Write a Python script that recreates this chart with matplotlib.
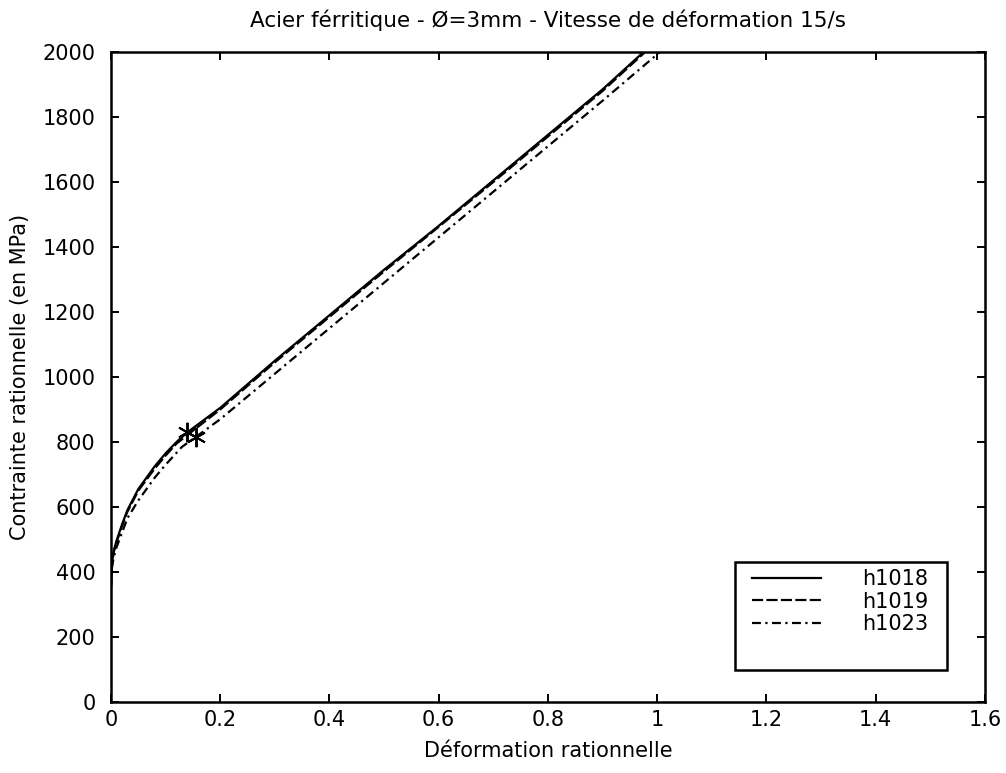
import matplotlib.pyplot as plt
from matplotlib.patches import Rectangle
import numpy as np

plt.rcParams['font.family'] = ['DejaVu Sans']

# deformation rationnelle / contrainte (MPa)
eps_1018 = [0.0, 0.002, 0.005, 0.01, 0.02, 0.03, 0.05, 0.08, 0.10, 0.12, 0.14,
            0.20, 0.30, 0.40, 0.50, 0.60, 0.70, 0.80, 0.90, 0.975]
sig_1018 = [360, 430, 465, 495, 545, 590, 655, 725, 765, 800, 830,
            905, 1050, 1190, 1330, 1465, 1605, 1745, 1885, 2000]

eps_1019 = [0.0, 0.002, 0.005, 0.01, 0.02, 0.03, 0.05, 0.08, 0.10, 0.12, 0.145,
            0.20, 0.30, 0.40, 0.50, 0.60, 0.70, 0.80, 0.90, 0.978]
sig_1019 = [355, 425, 460, 490, 540, 585, 650, 718, 758, 795, 828,
            900, 1045, 1185, 1325, 1462, 1600, 1740, 1880, 2000]

eps_1023 = [0.0, 0.002, 0.005, 0.01, 0.02, 0.03, 0.05, 0.08, 0.10, 0.13, 0.155,
            0.20, 0.30, 0.40, 0.50, 0.60, 0.70, 0.80, 0.90, 1.005]
sig_1023 = [350, 415, 445, 475, 520, 565, 620, 690, 730, 785, 815,
            870, 1010, 1150, 1290, 1430, 1570, 1710, 1850, 2000]

# transition points (asterisks)
star_eps = [0.14, 0.155]
star_sig = [830, 815]

labels = ['h1018', 'h1019', 'h1023']

fig = plt.figure(figsize=(10.06, 7.73), dpi=100)
ax = fig.add_axes([0.1103, 0.0919, 0.8687, 0.8408])

ax.plot(eps_1018, sig_1018, color='k', lw=1.6, ls='-', label=labels[0])
ax.plot(eps_1019, sig_1019, color='k', lw=1.6, ls=(0, (5, 1.5)), label=labels[1])
ax.plot(eps_1023, sig_1023, color='k', lw=1.6, ls=(0, (4, 2, 1, 2)), label=labels[2])
ax.plot(star_eps, star_sig, ls='none', marker=(6, 2, 0), ms=14, mec='k', mew=1.4)

ax.set_xlim(0, 1.6)
ax.set_ylim(0, 2000)
ax.set_xticks(np.arange(0, 1.61, 0.2))
ax.set_xticklabels(['0', '0.2', '0.4', '0.6', '0.8', '1', '1.2', '1.4', '1.6'])
ax.set_yticks(np.arange(0, 2001, 200))
ax.tick_params(direction='in', top=True, right=True, length=6, width=1.4,
               labelsize=15)
ax.tick_params(axis='y', pad=11)
ax.tick_params(axis='x', pad=6)
for s in ax.spines.values():
    s.set_linewidth(1.8)

ax.set_title('Acier férritique - Ø=3mm - Vitesse de déformation 15/s', fontsize=15.5, pad=18)
ax.set_xlabel('Déformation rationnelle', fontsize=15, labelpad=8)
ax.set_ylabel('Contrainte rationnelle (en MPa)', fontsize=15, labelpad=9)

# legend box (MATLAB style, more room at the bottom)
ax.add_patch(Rectangle((0.714, 0.049), 0.2425, 0.1665, transform=ax.transAxes,
                       fill=False, ec='k', lw=1.8, zorder=5))
leg = ax.legend(loc='upper left', bbox_to_anchor=(0.7334, 0.2045), fontsize=15,
                handlelength=3.3, handletextpad=2.0, borderpad=0.0,
                borderaxespad=0.0, labelspacing=0.12, frameon=False)

fig.savefig('out.png', dpi=100)
